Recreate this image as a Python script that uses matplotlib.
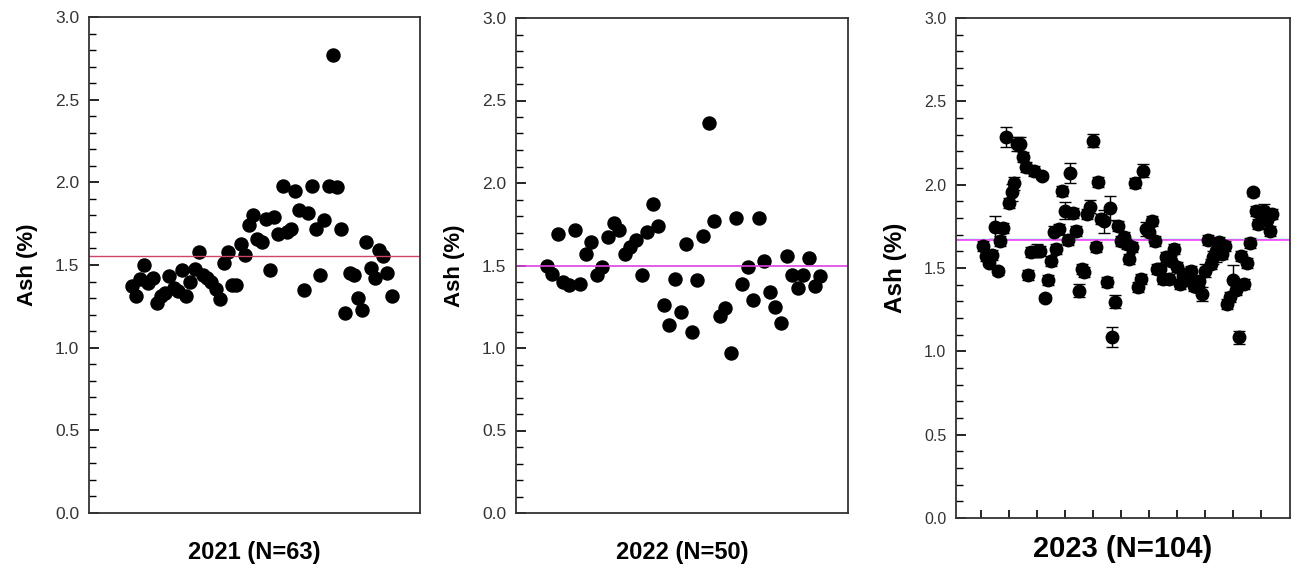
import numpy as np
import matplotlib
matplotlib.use("Agg")
from matplotlib import pyplot as plt
from matplotlib.ticker import MultipleLocator, NullLocator

plt.rcParams["font.family"] = ["Liberation Sans", "DejaVu Sans"]

# 2021 ash values, sample order
ash_2021 = [1.37, 1.31, 1.415, 1.50, 1.39, 1.42, 1.27, 1.31, 1.33, 1.435,
            1.36, 1.34, 1.47, 1.31, 1.40, 1.475, 1.58, 1.44, 1.42, 1.40,
            1.355, 1.295, 1.51, 1.58, 1.38, 1.38, 1.63, 1.56, 1.74, 1.80,
            1.66, 1.64, 1.78, 1.47, 1.79, 1.69, 1.98, 1.70, 1.72, 1.945,
            1.835, 1.35, 1.815, 1.98, 1.72, 1.44, 1.775, 1.98, 2.77, 1.97,
            1.72, 1.21, 1.45, 1.44, 1.30, 1.225, 1.64, 1.48, 1.42, 1.59,
            1.555, 1.45, 1.31]
mean_2021 = 1.555

# 2022 ash values
ash_2022 = [1.495, 1.45, 1.69, 1.40, 1.38, 1.715, 1.39, 1.57, 1.645, 1.44,
            1.49, 1.67, 1.755, 1.715, 1.57, 1.615, 1.655, 1.44, 1.705, 1.87,
            1.74, 1.26, 1.14, 1.42, 1.22, 1.63, 1.10, 1.41, 1.68, 2.366,
            1.77, 1.195, 1.24, 0.97, 1.79, 1.39, 1.49, 1.29, 1.79, 1.53,
            1.34, 1.25, 1.15, 1.56, 1.44, 1.365, 1.44, 1.545, 1.375, 1.435]
mean_2022 = 1.497

# 2023 ash values (with standard deviations)
ash_2023 = [1.634, 1.574, 1.53, 1.58, 1.744, 1.48, 1.664, 1.74, 2.288, 1.888,
            1.954, 2.008, 2.244, 2.244, 2.164, 2.104, 1.458, 1.594, 2.084, 1.604,
            1.60, 2.052, 1.32, 1.428, 1.544, 1.714, 1.614, 1.734, 1.964, 1.844,
            1.668, 2.07, 1.828, 1.724, 1.364, 1.494, 1.474, 1.824, 1.868, 2.264,
            1.624, 2.014, 1.794, 1.78, 1.414, 1.86, 1.084, 1.298, 1.754, 1.664,
            1.684, 1.644, 1.554, 1.624, 2.01, 1.384, 1.434, 2.084, 1.734, 1.714,
            1.784, 1.664, 1.494, 1.494, 1.434, 1.564, 1.434, 1.544, 1.614, 1.504,
            1.404, 1.45, 1.464, 1.434, 1.484, 1.39, 1.384, 1.424, 1.344, 1.484,
            1.668, 1.524, 1.564, 1.604, 1.654, 1.584, 1.634, 1.284, 1.324, 1.428,
            1.368, 1.084, 1.574, 1.404, 1.53, 1.648, 1.954, 1.844, 1.764, 1.834,
            1.844, 1.79, 1.724, 1.824]
err_2023 = [0.03, 0.03, 0.02, 0.03, 0.07, 0.02, 0.03, 0.03, 0.06, 0.03,
            0.05, 0.04, 0.04, 0.04, 0.03, 0.03, 0.03, 0.03, 0.03, 0.04,
            0.03, 0.02, 0.02, 0.03, 0.03, 0.04, 0.03, 0.03, 0.03, 0.05,
            0.03, 0.06, 0.03, 0.03, 0.04, 0.03, 0.03, 0.03, 0.04, 0.04,
            0.03, 0.03, 0.03, 0.07, 0.03, 0.07, 0.06, 0.04, 0.03, 0.03,
            0.03, 0.03, 0.03, 0.03, 0.03, 0.03, 0.03, 0.04, 0.04, 0.04,
            0.03, 0.03, 0.03, 0.03, 0.03, 0.03, 0.03, 0.03, 0.03, 0.03,
            0.03, 0.03, 0.03, 0.04, 0.03, 0.03, 0.03, 0.03, 0.04, 0.04,
            0.03, 0.03, 0.04, 0.07, 0.03, 0.03, 0.03, 0.03, 0.03, 0.09,
            0.03, 0.04, 0.03, 0.03, 0.03, 0.03, 0.02, 0.03, 0.03, 0.03,
            0.04, 0.05, 0.03, 0.03]
mean_2023 = 1.668

x_2021 = np.arange(1, len(ash_2021) + 1)
x_2022 = np.arange(1, len(ash_2022) + 1)
x_2023 = np.arange(11, 11 + len(ash_2023))

fig = plt.figure(figsize=(12.97, 5.78), dpi=100)
ax1 = fig.add_axes([89 / 1297, 65 / 578, 331 / 1297, 496 / 578])
ax2 = fig.add_axes([516 / 1297, 65 / 578, 332 / 1297, 495 / 578])
ax3 = fig.add_axes([956 / 1297, 60 / 578, 334 / 1297, 500 / 578])


def style(ax, label, tick_size, lab_size, title_size, lab_pad, title_pad):
    ax.set_ylim(0, 3.0)
    ax.yaxis.set_major_locator(MultipleLocator(0.5))
    ax.yaxis.set_minor_locator(MultipleLocator(0.1))
    ax.tick_params(axis="y", which="major", direction="in", length=7, width=1.2,
                   labelsize=tick_size, pad=7, labelcolor="#333333")
    ax.tick_params(axis="y", which="minor", direction="in", length=5, width=1.0)
    ax.set_yticklabels([f"{v:.1f}" for v in ax.get_yticks()])
    for s in ax.spines.values():
        s.set_linewidth(1.3)
        s.set_color("#333333")
    ax.set_ylabel("Ash (%)", fontsize=lab_size, fontweight="bold", labelpad=lab_pad)
    ax.set_xlabel(label, fontsize=title_size, fontweight="bold", labelpad=title_pad)


ax1.plot(x_2021, ash_2021, "o", color="black", ms=9.4)
ax1.axhline(mean_2021, color="#cc4466", lw=1.0)
ax1.set_xlim(-9.2, 69.8)
ax1.xaxis.set_major_locator(NullLocator())
style(ax1, "2021 (N=63)", 12.5, 16, 17, 12, 20)

ax2.plot(x_2022, ash_2022, "o", color="black", ms=9.4)
ax2.axhline(mean_2022, color="#e040e0", lw=1.2)
ax2.set_xlim(-4.5, 55)
ax2.xaxis.set_major_locator(NullLocator())
style(ax2, "2022 (N=50)", 12.5, 16, 17, 12, 20)

ax3.errorbar(x_2023, ash_2023, yerr=err_2023, fmt="o", color="black", ms=9.0,
             elinewidth=1.0, capsize=4, capthick=1.0)
ax3.axhline(mean_2023 + 0.008, color="#40e0c0", lw=1.0)
ax3.axhline(mean_2023, color="#ff40ff", lw=1.2)
ax3.set_xlim(1.2, 120.3)
ax3.set_xticks(np.arange(10, 111, 10))
ax3.tick_params(axis="x", direction="in", length=6, width=1.2, labelbottom=False)
style(ax3, "2023 (N=104)", 11.5, 17.5, 21, 12, 12)

fig.savefig("out.png", dpi=100)
